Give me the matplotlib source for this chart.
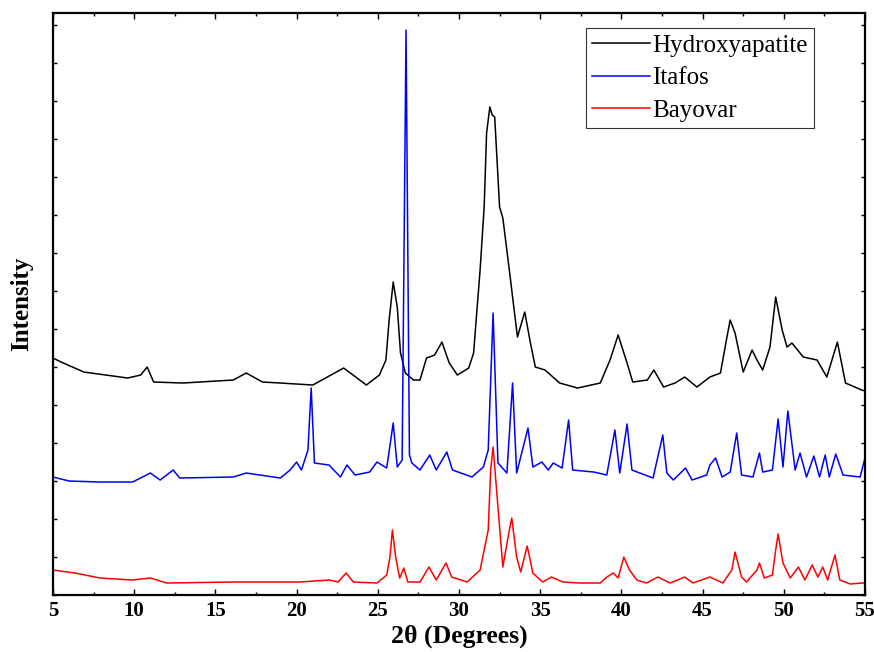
"""XRD patterns of hydroxyapatite and two phosphate rocks"""
import matplotlib
matplotlib.use("Agg")
import matplotlib.pyplot as plt
from matplotlib.ticker import MultipleLocator

plt.rcParams['font.family'] = ['Liberation Serif', 'DejaVu Serif']

# 2theta (degrees) / intensity (arbitrary units, stacked offsets as in the figure)
hap_x = [5.0, 5.5, 6.9, 9.6, 10.4, 10.8, 11.2, 13.0, 16.1, 16.9, 17.9, 19.0, 21.0, 22.9,
         24.3, 25.1, 25.5, 25.7, 25.95, 26.2, 26.4, 26.7, 27.2, 27.6, 28.0, 28.5, 28.95,
         29.4, 29.9, 30.6, 30.9, 31.3, 31.55, 31.7, 31.9, 32.05, 32.2, 32.5, 32.7, 33.1,
         33.6, 34.05, 34.4, 34.7, 35.3, 36.2, 37.3, 38.7, 39.3, 39.8, 40.35, 40.7, 41.6,
         42.0, 42.6, 43.3, 43.9, 44.65, 45.45, 46.1, 46.5, 46.7, 47.0, 47.5, 48.05, 48.35,
         48.7, 49.15, 49.5, 49.9, 50.2, 50.5, 51.2, 52.05, 52.65, 53.3, 53.8, 54.8, 55.0]
hap_y = [237, 233, 223, 217, 220, 228, 213, 212, 215, 222, 213, 212, 210, 227,
         210, 220, 235, 275, 313, 288, 242, 222, 215, 215, 237, 240, 253,
         232, 220, 227, 242, 325, 388, 462, 488, 480, 478, 388, 377, 325,
         258, 283, 252, 228, 225, 212, 207, 212, 235, 260, 232, 213, 215,
         225, 208, 212, 218, 208, 218, 222, 258, 275, 262, 223, 245, 235,
         225, 248, 298, 265, 248, 252, 238, 235, 218, 253, 212, 205, 204]

itafos_x = [5.0, 6.0, 7.9, 9.9, 11.0, 11.6, 12.4, 12.8, 16.1, 16.9, 19.0, 19.6, 20.0, 20.3,
            20.7, 20.9, 21.1, 22.0, 22.7, 23.1, 23.6, 24.5, 24.95, 25.55, 25.95, 26.2,
            26.5, 26.74, 26.95, 27.1, 27.6, 28.2, 28.6, 29.25, 29.6, 30.8, 31.5, 31.8,
            32.1, 32.4, 32.95, 33.3, 33.55, 34.25, 34.55, 35.1, 35.5, 35.8, 36.35, 36.75,
            37.0, 38.3, 39.1, 39.6, 39.9, 40.35, 40.65, 41.95, 42.55, 42.8, 43.2, 43.95,
            44.35, 45.25, 45.45, 45.8, 46.2, 46.7, 47.1, 47.4, 48.1, 48.5, 48.7, 49.3,
            49.65, 49.95, 50.25, 50.7, 51.0, 51.4, 51.85, 52.2, 52.55, 52.8, 53.2, 53.65,
            54.7, 55.0]
itafos_y = [118, 114, 113, 113, 122, 115, 125, 117, 118, 122, 117, 125, 133, 125,
            145, 207, 132, 130, 118, 130, 120, 123, 133, 127, 172, 128,
            135, 565, 140, 132, 125, 140, 125, 143, 125, 118, 128, 145,
            282, 132, 122, 212, 122, 167, 128, 133, 125, 132, 127, 175,
            125, 123, 120, 165, 122, 171, 125, 117, 160, 122, 115, 127,
            115, 120, 130, 137, 118, 123, 162, 120, 118, 142, 123, 125,
            176, 128, 184, 125, 142, 118, 139, 118, 140, 118, 141, 120,
            118, 137]

bayovar_x = [5.0, 6.35, 7.9, 9.9, 11.0, 12.0, 16.1, 20.2, 22.0, 22.55, 23.05, 23.5, 24.95,
             25.55, 25.75, 25.9, 26.1, 26.35, 26.6, 26.85, 27.6, 28.15, 28.6, 29.2, 29.55,
             30.5, 31.3, 31.8, 31.95, 32.1, 32.35, 32.7, 33.1, 33.25, 33.55, 33.8, 34.2,
             34.55, 35.15, 35.7, 36.4, 37.45, 38.7, 39.1, 39.5, 39.8, 40.15, 40.5, 40.95,
             41.55, 42.25, 43.0, 43.9, 44.4, 45.45, 46.25, 46.8, 47.0, 47.4, 47.7, 48.35,
             48.5, 48.8, 49.3, 49.5, 49.65, 49.95, 50.4, 50.9, 51.3, 51.75, 52.1, 52.4,
             52.7, 53.15, 53.45, 54.1, 54.8, 55.0]
bayovar_y = [25, 22, 17, 15, 17, 12, 13, 13, 15, 13, 22, 13, 12,
             20, 38, 65, 38, 17, 27, 13, 13, 28, 15, 32, 18,
             13, 25, 65, 125, 148, 98, 28, 65, 77, 38, 23, 49,
             22, 13, 18, 13, 12, 12, 18, 22, 17, 38, 25, 15,
             12, 18, 12, 18, 12, 18, 12, 25, 43, 18, 13, 25,
             32, 17, 20, 45, 61, 32, 17, 28, 15, 30, 18, 28,
             15, 40, 15, 11, 12, 12]

fig = plt.figure(figsize=(8.74, 6.52), dpi=100)
ax = fig.add_axes([0.0606, 0.0874, 0.9291, 0.8926])

ax.plot(hap_x, hap_y, color='black', lw=1.1, label='Hydroxyapatite')
ax.plot(itafos_x, itafos_y, color='blue', lw=1.1, label='Itafos')
ax.plot(bayovar_x, bayovar_y, color='red', lw=1.1, label='Bayovar')

ax.set_xlim(5, 55)
ax.set_ylim(0, 582)
ax.xaxis.set_major_locator(MultipleLocator(5))
ax.xaxis.set_minor_locator(MultipleLocator(2.5))
ax.yaxis.set_major_locator(MultipleLocator(38))
ax.tick_params(axis='both', which='both', direction='in', top=True, right=True, width=1)
ax.tick_params(axis='x', which='major', length=4, labelsize=15, pad=4)
ax.tick_params(axis='x', which='minor', length=2)
ax.tick_params(axis='y', length=3, labelleft=False)
for label in ax.get_xticklabels():
    label.set_fontweight('bold')
for spine in ax.spines.values():
    spine.set_linewidth(1.6)

ax.set_xlabel('2θ (Degrees)', fontsize=18.5, fontweight='bold', labelpad=3)
ax.set_ylabel('Intensity', fontsize=18, fontweight='bold', labelpad=14)

leg = ax.legend(loc='upper right', bbox_to_anchor=(0.937, 0.974), fontsize=18,
                frameon=True, fancybox=False, edgecolor='black', handlelength=2.3,
                handletextpad=0.1, borderpad=0.25, labelspacing=0.4, borderaxespad=0)
leg.get_frame().set_linewidth(0.8)

fig.savefig('out.png', dpi=100)
